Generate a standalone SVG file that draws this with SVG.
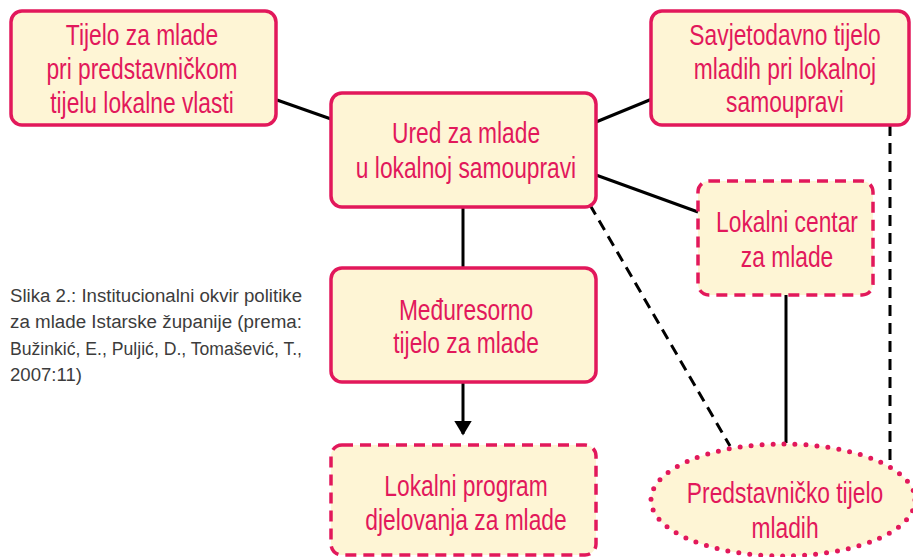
<svg xmlns="http://www.w3.org/2000/svg" width="913" height="557" viewBox="0 0 913 557">
<style>
.box{fill:#FEF5D5;stroke:#E2185B;stroke-width:3.5}
.dash{stroke-dasharray:11 7}
.dot{stroke-width:5;stroke-dasharray:0 11;stroke-linecap:round}
.t{font-family:"Liberation Sans",Arial,sans-serif;font-size:30px;fill:#E2185B;text-anchor:middle}
.ln{stroke:#000;stroke-width:3;fill:none}
.ld{stroke:#000;stroke-width:3;fill:none;stroke-dasharray:11 7}
.cap{font-family:"Liberation Sans",Arial,sans-serif;font-size:18px;fill:#3c3c3c}
</style>
<defs>
<marker id="arr" markerWidth="5" markerHeight="6" refX="4.5" refY="3" orient="auto" markerUnits="strokeWidth">
<path d="M0,0 L5,3 L0,6 z" fill="#000"/>
</marker>
</defs>
<rect width="913" height="557" fill="#fff"/>
<g id="connectors">
<line class="ln" x1="277" y1="100" x2="331" y2="119"/>
<line class="ln" x1="596" y1="122" x2="652" y2="99"/>
<line class="ln" x1="596" y1="175" x2="698" y2="212"/>
<line class="ln" x1="463" y1="207" x2="463" y2="268"/>
<line class="ln" x1="463" y1="382" x2="463" y2="434" marker-end="url(#arr)"/>
<line class="ld" x1="590" y1="205" x2="730" y2="446"/>
<line class="ln" x1="786" y1="295" x2="786" y2="443"/>
<line class="ld" x1="890" y1="125" x2="890" y2="467"/>
</g>
<g id="n1">
<rect class="box" x="11" y="11" width="265" height="114" rx="11"/>
<g transform="translate(142 0) scale(0.76 1)">
<text class="t" x="0" y="45">Tijelo za mlade</text>
<text class="t" x="0" y="79">pri predstavničkom</text>
<text class="t" x="0" y="113">tijelu lokalne vlasti</text>
</g>
</g>
<g id="n2">
<rect class="box" x="651" y="11" width="258" height="114" rx="11"/>
<g transform="translate(785 0) scale(0.76 1)">
<text class="t" x="0" y="45">Savjetodavno tijelo</text>
<text class="t" x="0" y="79">mladih pri lokalnoj</text>
<text class="t" x="0" y="112">samoupravi</text>
</g>
</g>
<g id="n3">
<rect class="box" x="331" y="93" width="265" height="114" rx="11"/>
<g transform="translate(466 0) scale(0.76 1)">
<text class="t" x="0" y="143">Ured za mlade</text>
<text class="t" x="0" y="178">u lokalnoj samoupravi</text>
</g>
</g>
<g id="n4">
<rect class="box dash" x="698" y="181" width="175" height="114" rx="11"/>
<g transform="translate(787 0) scale(0.76 1)">
<text class="t" x="0" y="232">Lokalni centar</text>
<text class="t" x="0" y="267">za mlade</text>
</g>
</g>
<g id="n5">
<rect class="box" x="331" y="268" width="265" height="114" rx="11"/>
<g transform="translate(466 0) scale(0.76 1)">
<text class="t" x="0" y="320">Međuresorno</text>
<text class="t" x="0" y="353">tijelo za mlade</text>
</g>
</g>
<g id="n6">
<rect class="box dash" x="331" y="445" width="265" height="110" rx="11"/>
<g transform="translate(466 0) scale(0.76 1)">
<text class="t" x="0" y="496">Lokalni program</text>
<text class="t" x="0" y="530">djelovanja za mlade</text>
</g>
</g>
<g id="n7">
<ellipse class="box dot" cx="783" cy="500" rx="132" ry="56"/>
<g transform="translate(785 0) scale(0.76 1)">
<text class="t" x="0" y="503">Predstavničko tijelo</text>
<text class="t" x="0" y="538">mladih</text>
</g>
</g>
<g id="caption">
<text class="cap" x="10" y="302" textLength="292" lengthAdjust="spacingAndGlyphs">Slika 2.: Institucionalni okvir politike</text>
<text class="cap" x="10" y="328" textLength="292" lengthAdjust="spacingAndGlyphs">za mlade Istarske županije (prema:</text>
<text class="cap" x="10" y="355" textLength="292" lengthAdjust="spacingAndGlyphs">Bužinkić, E., Puljić, D., Tomašević, T.,</text>
<text class="cap" x="10" y="381" textLength="72" lengthAdjust="spacingAndGlyphs">2007:11)</text>
</g>
</svg>
